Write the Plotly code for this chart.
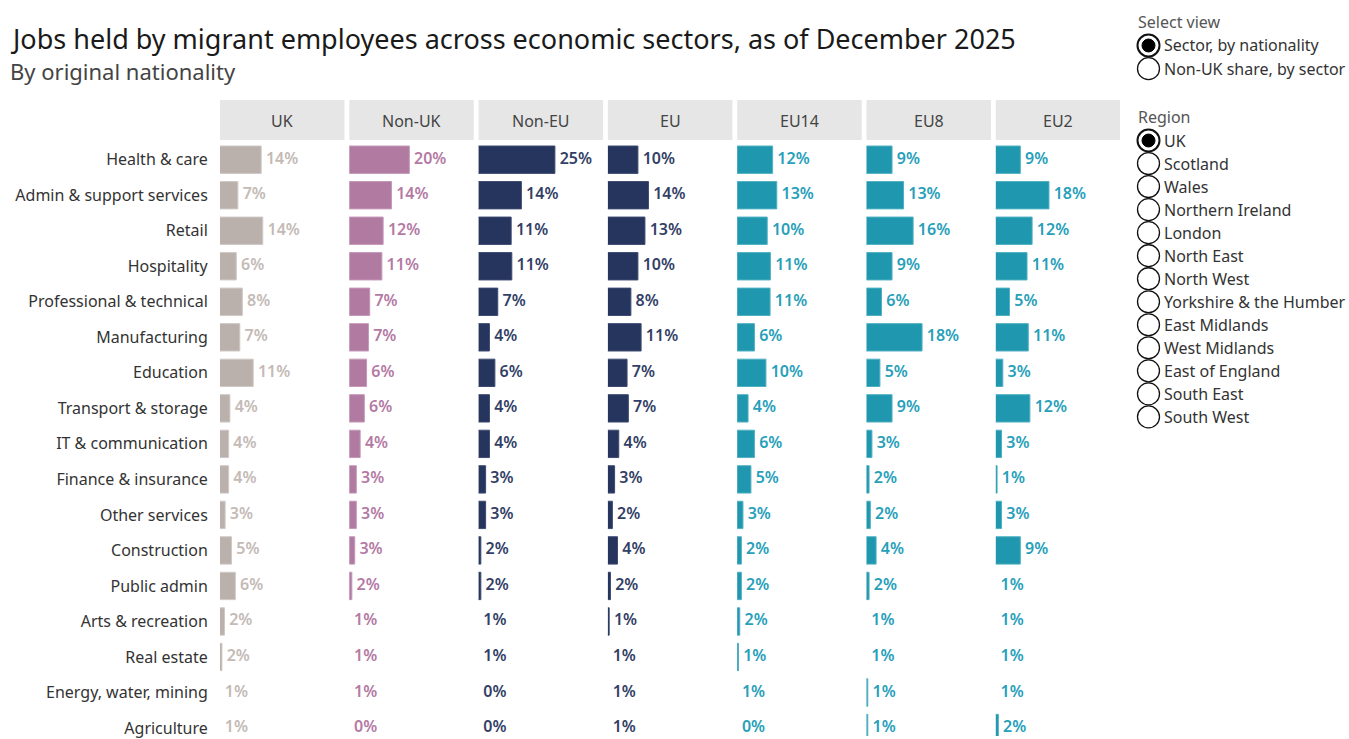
import plotly.graph_objects as go

# ---------------- data ----------------
sectors = ["Health & care", "Admin & support services", "Retail", "Hospitality",
           "Professional & technical", "Manufacturing", "Education", "Transport & storage",
           "IT & communication", "Finance & insurance", "Other services", "Construction",
           "Public admin", "Arts & recreation", "Real estate", "Energy, water, mining",
           "Agriculture"]

groups = ["UK", "Non-UK", "Non-EU", "EU", "EU14", "EU8", "EU2"]

uk = [13.9, 6.6, 14.4, 6.1, 8.0, 7.2, 11.4, 4.1, 3.7, 3.7, 2.6, 4.6, 5.8, 2.4, 1.6, 0.9, 0.8]
non_uk = [19.8, 14.2, 11.6, 11.2, 7.4, 7.0, 6.4, 5.7, 4.4, 3.2, 3.2, 2.7, 1.8, 0.9, 0.8, 0.7, 0.4]
non_eu = [24.9, 14.4, 11.2, 11.4, 7.0, 4.4, 6.1, 4.4, 4.4, 3.2, 3.2, 1.7, 1.7, 0.9, 0.8, 0.4, 0.3]
eu = [10.4, 13.7, 12.6, 10.4, 8.2, 11.4, 7.0, 7.4, 4.4, 3.1, 2.4, 4.0, 1.8, 1.4, 0.9, 0.8, 0.7]
eu14 = [12.1, 13.4, 10.4, 11.4, 11.3, 6.4, 10.0, 4.4, 6.4, 5.3, 2.8, 2.3, 2.3, 1.8, 1.4, 0.9, 0.4]
eu8 = [9.0, 12.6, 15.6, 9.0, 5.7, 18.4, 5.2, 9.0, 2.7, 1.8, 2.2, 4.0, 1.8, 0.9, 0.9, 1.4, 1.4]
eu2 = [8.7, 17.7, 12.4, 10.8, 5.3, 11.2, 3.2, 11.7, 2.8, 1.4, 2.8, 8.7, 0.9, 0.9, 0.8, 0.8, 1.8]

series = [uk, non_uk, non_eu, eu, eu14, eu8, eu2]

view_options = ["Sector, by nationality", "Non-UK share, by sector"]
region_options = ["UK", "Scotland", "Wales", "Northern Ireland", "London", "North East",
                  "North West", "Yorkshire & the Humber", "East Midlands", "West Midlands",
                  "East of England", "South East", "South West"]

# ---------------- style ----------------
bar_colors = ["#bab0ac", "#b07aa1", "#26355e", "#26355e", "#1f97ae", "#1f97ae", "#1f97ae"]
line_colors = ["#cfc8c5", "#c597b8", "#3d4a70", "#3d4a70", "#4fb0c2", "#4fb0c2", "#4fb0c2"]
label_colors = ["#c4bab6", "#b47aa4", "#333f66", "#333f66", "#27a0ba", "#27a0ba", "#27a0ba"]
FONT = "Noto Sans"
AXIS_MIN, AXIS_MAX = 1.0, 40.0

W, H = 1349, 739
L, R, T, B = 220, 229, 141, 0
PW, PH = W - L - R, H - T - B
PITCH, PANEL = 129.3, 124.5


def px_x(px):
    return (px - L) / PW


def px_y(py):
    return 1 - (py - T) / PH


fig = go.Figure()
layout_axes = {}
shapes = []
annotations = []
rows = list(range(len(sectors)))

for k, (name, vals) in enumerate(zip(groups, series)):
    ax = "x" if k == 0 else f"x{k + 1}"
    axkey = "xaxis" if k == 0 else f"xaxis{k + 1}"
    d0 = k * PITCH / PW
    d1 = (k * PITCH + PANEL) / PW
    layout_axes[axkey] = dict(domain=[d0, min(d1, 1)], range=[AXIS_MIN, AXIS_MAX],
                              showgrid=False, zeroline=False, showticklabels=False,
                              showline=False, ticks="", anchor="y", fixedrange=True)
    fig.add_trace(go.Bar(
        x=vals, y=rows, orientation="h", xaxis=ax, yaxis="y",
        marker=dict(color=bar_colors[k],
                    line=dict(color=line_colors[k],
                              width=[1 if v > AXIS_MIN else 0 for v in vals])),
        hoverinfo="skip", showlegend=False))
    fig.add_trace(go.Scatter(
        x=[max(v, AXIS_MIN) for v in vals], y=rows, xaxis=ax, yaxis="y",
        mode="markers+text", text=[f"{v:.0f}%" for v in vals], textposition="middle right",
        marker=dict(size=6, opacity=0),
        textfont=dict(family=FONT, size=16, color=label_colors[k], weight=600),
        hoverinfo="skip", showlegend=False, cliponaxis=True))
    # header box
    shapes.append(dict(type="rect", xref=f"{ax} domain", yref="paper",
                       x0=0, x1=1, y0=px_y(140), y1=px_y(99.7),
                       fillcolor="#e6e6e6", line=dict(width=0), layer="below"))
    annotations.append(dict(text=name, xref=f"{ax} domain", yref="paper", x=0.5, y=px_y(121),
                            xanchor="center", yanchor="middle", showarrow=False,
                            font=dict(family=FONT, size=16, color="#444444")))

# titles
annotations.append(dict(text="Jobs held by migrant employees across economic sectors, as of December 2025",
                        xref="paper", yref="paper", x=px_x(8), y=px_y(38), xanchor="left",
                        yanchor="middle", showarrow=False,
                        font=dict(family=FONT, size=27, color="#1a1a1a")))
annotations.append(dict(text="By original nationality", xref="paper", yref="paper",
                        x=px_x(8), y=px_y(71), xanchor="left", yanchor="middle", showarrow=False,
                        font=dict(family=FONT, size=22, color="#444444")))


# radio controls
def radio_group(title, title_y, options, first_y, step, selected):
    annotations.append(dict(text=title, xref="paper", yref="paper", x=px_x(1136),
                            y=px_y(title_y), xanchor="left", yanchor="middle", showarrow=False,
                            font=dict(family=FONT, size=16, color="#555555")))
    for i, opt in enumerate(options):
        cy = first_y + i * step
        cx, r = 1148.5, 11
        shapes.append(dict(type="circle", xref="paper", yref="paper",
                           x0=px_x(cx - r), x1=px_x(cx + r), y0=px_y(cy + r), y1=px_y(cy - r),
                           fillcolor="white", line=dict(color="#111111", width=2 if opt == selected else 1.3)))
        if opt == selected:
            ri = 6.5
            shapes.append(dict(type="circle", xref="paper", yref="paper",
                               x0=px_x(cx - ri), x1=px_x(cx + ri), y0=px_y(cy + ri), y1=px_y(cy - ri),
                               fillcolor="#000000", line=dict(color="#000000", width=1)))
        annotations.append(dict(text=opt, xref="paper", yref="paper", x=px_x(1162),
                                y=px_y(cy), xanchor="left", yanchor="middle", showarrow=False,
                                font=dict(family=FONT, size=16, color="#333333")))


radio_group("Select view", 21, view_options, 45, 23.3, view_options[0])
radio_group("Region", 117, region_options, 140.5, 23.15, region_options[0])

row_pitch = 35.7
first_center = 159.8
y_top = (T - first_center) / row_pitch
y_bot = (H - B - first_center) / row_pitch

fig.update_layout(
    width=W, height=H,
    margin=dict(l=L, r=R, t=T, b=B, pad=0),
    paper_bgcolor="white", plot_bgcolor="white",
    bargap=0.23, showlegend=False,
    font=dict(family=FONT, size=16, color="#333333"),
    yaxis=dict(domain=[0, 1], range=[y_bot, y_top], tickmode="array", tickvals=rows,
               ticktext=sectors, showgrid=False, zeroline=False, showline=False,
               ticks="outside", ticklen=8, tickcolor="rgba(0,0,0,0)", anchor="x",
               ticklabeloverflow="allow",
               tickfont=dict(family=FONT, size=16, color="#333333"), fixedrange=True),
    shapes=shapes, annotations=annotations,
    **layout_axes,
)

fig.write_html("out.html", config={"displayModeBar": False},
               post_script="document.body.style.margin='0';document.body.style.overflow='hidden';")
